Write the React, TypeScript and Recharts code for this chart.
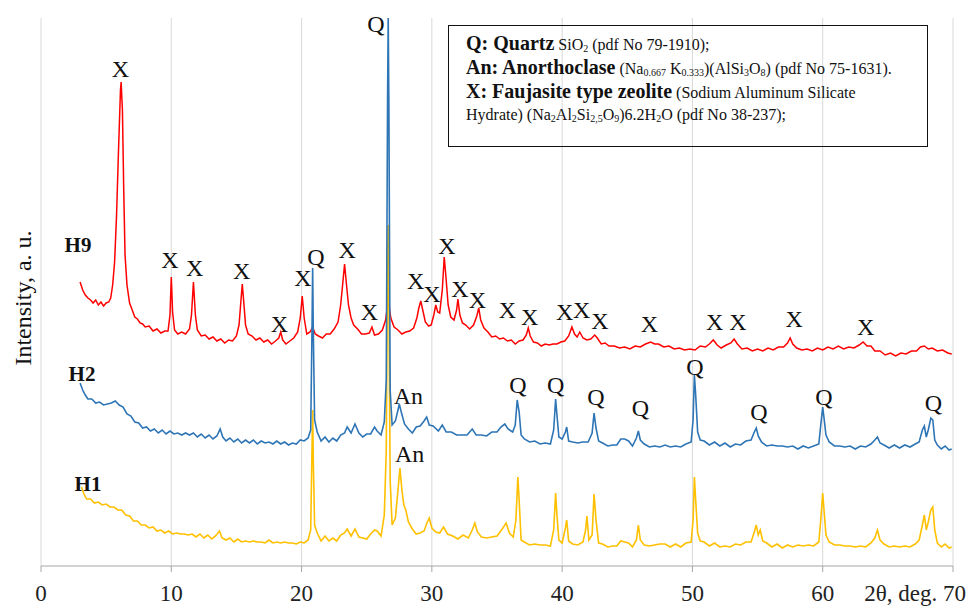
import { LineChart, Line, XAxis, YAxis, CartesianGrid, ReferenceDot } from "recharts";

type Pt = [number, number];

// 2θ (deg) vs intensity (a.u.)
const H9: Pt[] = [
  [3.0, 284], [3.2, 276], [3.4, 271], [3.6, 268], [3.8, 266], [4.0, 263], [4.2, 266], [4.4, 261],
  [4.6, 264], [4.8, 260], [5.0, 263], [5.2, 264], [5.35, 268], [5.5, 281], [5.65, 304], [5.8, 351],
  [5.95, 416], [6.1, 476], [6.15, 484], [6.25, 456], [6.35, 376], [6.45, 311], [6.6, 281], [6.8, 263],
  [7.0, 256], [7.2, 249], [7.4, 247], [7.6, 243], [7.8, 242], [8.0, 239], [8.3, 240], [8.6, 235],
  [8.9, 237], [9.2, 233], [9.5, 235], [9.75, 235], [9.9, 251], [10.0, 289], [10.1, 254], [10.25, 236],
  [10.5, 232], [10.8, 234], [11.1, 232], [11.4, 237], [11.55, 251], [11.7, 284], [11.85, 251], [12.0, 236],
  [12.3, 230], [12.6, 231], [12.9, 227], [13.2, 229], [13.5, 225], [13.8, 227], [14.1, 223], [14.4, 226],
  [14.7, 225], [15.0, 230], [15.2, 241], [15.35, 266], [15.45, 282], [15.55, 266], [15.7, 241], [15.9, 232],
  [16.2, 230], [16.5, 226], [16.8, 228], [17.1, 224], [17.4, 226], [17.7, 222], [18.0, 225], [18.25, 228],
  [18.4, 234], [18.55, 226], [18.8, 222], [19.1, 225], [19.4, 228], [19.7, 234], [19.9, 248], [20.05, 270],
  [20.2, 248], [20.4, 232], [20.65, 234], [20.85, 239], [21.05, 232], [21.3, 230], [21.6, 228], [21.9, 232],
  [22.2, 232], [22.5, 237], [22.8, 244], [23.0, 261], [23.15, 281], [23.3, 302], [23.45, 281], [23.6, 261],
  [23.8, 248], [24.0, 241], [24.3, 237], [24.6, 232], [24.9, 232], [25.2, 233], [25.4, 239], [25.6, 231],
  [25.9, 232], [26.2, 236], [26.45, 246], [26.65, 266], [26.85, 248], [27.1, 239], [27.4, 236], [27.7, 232],
  [28.0, 234], [28.3, 235], [28.6, 238], [28.85, 248], [29.0, 258], [29.15, 265], [29.3, 256], [29.5, 244],
  [29.75, 240], [29.95, 241], [30.15, 251], [30.3, 261], [30.45, 254], [30.6, 253], [30.8, 276], [30.95, 309],
  [31.1, 286], [31.25, 261], [31.45, 249], [31.7, 246], [31.9, 256], [32.0, 267], [32.15, 251], [32.35, 243],
  [32.6, 241], [32.9, 237], [33.2, 241], [33.45, 250], [33.6, 258], [33.75, 246], [34.0, 238], [34.3, 234],
  [34.6, 229], [34.9, 230], [35.2, 227], [35.5, 228], [35.8, 225], [36.1, 226], [36.4, 222], [36.7, 225],
  [37.0, 226], [37.25, 231], [37.4, 238], [37.55, 230], [37.8, 224], [38.1, 223], [38.4, 220], [38.7, 222],
  [39.0, 221], [39.3, 222], [39.6, 222], [39.9, 224], [40.2, 225], [40.5, 230], [40.75, 239], [40.95, 232],
  [41.15, 229], [41.35, 234], [41.6, 228], [41.9, 226], [42.2, 227], [42.5, 231], [42.7, 228], [43.0, 222],
  [43.3, 223], [43.6, 220], [44.0, 220], [44.4, 218], [44.8, 219], [45.2, 217], [45.6, 220], [46.0, 219],
  [46.4, 222], [46.8, 224], [47.1, 222], [47.4, 222], [47.8, 219], [48.2, 220], [48.6, 217], [49.0, 218],
  [49.4, 216], [49.8, 217], [50.2, 216], [50.6, 220], [51.0, 219], [51.3, 222], [51.6, 226], [51.9, 221],
  [52.2, 218], [52.6, 221], [52.95, 223], [53.2, 227], [53.45, 222], [53.8, 217], [54.2, 218], [54.6, 215],
  [55.0, 217], [55.4, 215], [55.8, 218], [56.2, 216], [56.6, 219], [57.0, 219], [57.3, 223], [57.5, 228],
  [57.7, 222], [58.0, 218], [58.4, 216], [58.8, 217], [59.2, 215], [59.6, 218], [60.0, 216], [60.4, 219],
  [60.8, 217], [61.2, 220], [61.6, 217], [62.0, 219], [62.4, 218], [62.8, 221], [63.1, 224], [63.4, 220],
  [63.7, 220], [64.0, 215], [64.4, 215], [64.8, 211], [65.2, 213], [65.6, 210], [66.0, 213], [66.4, 212],
  [66.8, 215], [67.2, 215], [67.5, 219], [67.8, 220], [68.1, 217], [68.4, 218], [68.8, 215], [69.2, 216],
  [69.6, 213], [69.9, 212],
];

const H2: Pt[] = [
  [3.0, 183], [3.2, 176], [3.4, 171], [3.6, 167], [3.9, 167], [4.2, 163], [4.5, 164], [4.8, 161],
  [5.1, 162], [5.4, 163], [5.7, 165], [6.0, 161], [6.3, 159], [6.6, 152], [6.9, 150], [7.2, 144],
  [7.5, 143], [7.8, 138], [8.1, 139], [8.4, 135], [8.7, 137], [9.0, 133], [9.3, 136], [9.6, 132],
  [9.9, 135], [10.2, 132], [10.5, 133], [10.8, 131], [11.1, 133], [11.4, 131], [11.7, 133], [12.0, 129],
  [12.3, 132], [12.6, 128], [12.9, 131], [13.2, 127], [13.5, 130], [13.75, 137], [13.95, 129], [14.2, 125],
  [14.5, 128], [14.8, 124], [15.1, 127], [15.4, 123], [15.7, 126], [16.0, 123], [16.3, 126], [16.6, 122],
  [16.9, 125], [17.2, 123], [17.5, 124], [17.8, 122], [18.1, 125], [18.4, 122], [18.7, 124], [19.0, 121],
  [19.3, 123], [19.6, 122], [19.9, 126], [20.2, 125], [20.5, 128], [20.7, 136], [20.8, 236], [20.85, 298],
  [20.9, 236], [21.0, 146], [21.2, 134], [21.5, 125], [21.8, 129], [22.1, 124], [22.4, 128], [22.7, 125],
  [23.0, 131], [23.3, 133], [23.5, 139], [23.8, 133], [24.1, 142], [24.4, 133], [24.7, 129], [25.0, 132],
  [25.3, 132], [25.6, 139], [25.8, 135], [26.1, 131], [26.35, 144], [26.5, 186], [26.6, 466], [26.65, 548],
  [26.7, 466], [26.8, 176], [26.95, 141], [27.2, 145], [27.4, 156], [27.5, 162], [27.65, 154], [27.9, 142],
  [28.2, 137], [28.5, 133], [28.8, 139], [29.1, 140], [29.4, 145], [29.6, 149], [29.8, 141], [30.1, 140],
  [30.5, 135], [30.8, 141], [31.1, 134], [31.5, 134], [31.9, 131], [32.3, 131], [32.7, 131], [33.1, 137],
  [33.4, 131], [33.8, 131], [34.2, 130], [34.6, 134], [35.0, 134], [35.3, 139], [35.6, 142], [35.85, 137],
  [36.2, 134], [36.4, 141], [36.55, 166], [36.7, 154], [36.85, 131], [37.1, 127], [37.5, 124], [37.9, 125],
  [38.3, 122], [38.7, 123], [39.1, 122], [39.35, 136], [39.5, 167], [39.6, 151], [39.75, 129], [40.0, 127],
  [40.25, 134], [40.35, 139], [40.5, 125], [40.8, 124], [41.2, 123], [41.6, 124], [42.0, 124], [42.3, 133],
  [42.45, 153], [42.6, 138], [42.8, 125], [43.1, 123], [43.5, 120], [43.9, 121], [44.2, 121], [44.5, 127],
  [44.8, 127], [45.1, 125], [45.4, 120], [45.7, 128], [45.85, 135], [46.0, 126], [46.3, 122], [46.7, 119],
  [47.1, 120], [47.5, 119], [47.9, 121], [48.3, 119], [48.7, 120], [49.1, 119], [49.5, 122], [49.9, 124],
  [50.05, 146], [50.15, 191], [50.25, 171], [50.4, 134], [50.6, 126], [50.9, 125], [51.3, 121], [51.7, 124],
  [52.1, 120], [52.5, 123], [52.9, 119], [53.3, 122], [53.7, 121], [54.1, 125], [54.5, 126], [54.75, 134],
  [54.9, 138], [55.05, 130], [55.3, 124], [55.7, 120], [56.1, 121], [56.5, 120], [56.9, 120], [57.3, 119],
  [57.7, 120], [58.1, 117], [58.5, 120], [58.9, 118], [59.3, 120], [59.7, 122], [59.85, 141], [60.0, 159],
  [60.1, 148], [60.25, 131], [60.5, 124], [60.9, 120], [61.3, 120], [61.7, 119], [62.1, 120], [62.5, 117],
  [62.9, 120], [63.3, 119], [63.7, 122], [64.0, 126], [64.2, 129], [64.4, 123], [64.7, 121], [65.1, 118],
  [65.5, 121], [65.9, 118], [66.3, 121], [66.7, 119], [67.1, 122], [67.4, 124], [67.65, 136], [67.8, 140],
  [67.95, 129], [68.1, 136], [68.3, 148], [68.45, 146], [68.6, 126], [68.8, 121], [69.1, 117], [69.4, 120],
  [69.7, 116], [69.9, 117],
];

const H1: Pt[] = [
  [3.1, 79], [3.3, 72], [3.5, 67], [3.8, 67], [4.1, 63], [4.4, 64], [4.7, 61], [5.0, 62],
  [5.3, 59], [5.6, 59], [5.9, 56], [6.2, 56], [6.5, 51], [6.8, 50], [7.1, 45], [7.4, 45],
  [7.7, 41], [8.0, 41], [8.3, 38], [8.6, 39], [8.9, 35], [9.2, 36], [9.5, 33], [9.8, 35],
  [10.1, 32], [10.4, 33], [10.7, 32], [11.0, 32], [11.3, 31], [11.6, 32], [11.9, 29], [12.2, 32],
  [12.5, 28], [12.8, 31], [13.1, 27], [13.4, 30], [13.7, 35], [13.9, 28], [14.2, 26], [14.5, 28],
  [14.8, 24], [15.1, 27], [15.4, 24], [15.7, 25], [16.0, 24], [16.3, 25], [16.6, 24], [16.9, 24],
  [17.2, 23], [17.5, 26], [17.8, 23], [18.1, 24], [18.4, 23], [18.7, 24], [19.0, 23], [19.3, 23],
  [19.6, 22], [19.9, 24], [20.2, 23], [20.5, 26], [20.7, 36], [20.8, 116], [20.85, 156], [20.9, 106],
  [21.0, 41], [21.2, 33], [21.5, 25], [21.8, 30], [22.1, 25], [22.4, 28], [22.7, 25], [23.0, 31],
  [23.3, 33], [23.5, 37], [23.8, 30], [24.1, 37], [24.4, 29], [24.7, 28], [25.0, 27], [25.3, 32],
  [25.6, 36], [25.8, 35], [26.1, 30], [26.35, 51], [26.5, 116], [26.6, 306], [26.65, 341], [26.7, 266],
  [26.8, 86], [26.95, 41], [27.2, 48], [27.4, 76], [27.55, 98], [27.7, 76], [27.85, 61], [28.0, 56],
  [28.2, 44], [28.5, 37], [28.8, 32], [29.1, 33], [29.4, 35], [29.65, 44], [29.8, 48], [30.0, 38],
  [30.3, 34], [30.6, 33], [30.9, 39], [31.2, 32], [31.6, 30], [32.0, 27], [32.4, 31], [32.8, 28],
  [33.1, 36], [33.3, 43], [33.5, 34], [33.8, 29], [34.2, 28], [34.6, 29], [35.0, 30], [35.4, 37],
  [35.7, 43], [35.95, 33], [36.25, 29], [36.45, 46], [36.6, 89], [36.7, 66], [36.85, 26], [37.1, 24],
  [37.5, 21], [37.9, 22], [38.3, 21], [38.7, 21], [39.1, 20], [39.35, 36], [39.5, 73], [39.6, 51],
  [39.75, 26], [40.0, 23], [40.25, 38], [40.35, 46], [40.5, 25], [40.8, 22], [41.2, 21], [41.6, 24],
  [41.8, 36], [41.9, 50], [42.05, 26], [42.3, 31], [42.45, 72], [42.6, 46], [42.8, 23], [43.1, 22],
  [43.5, 19], [43.9, 20], [44.2, 20], [44.5, 25], [44.8, 24], [45.1, 23], [45.4, 19], [45.7, 26],
  [45.85, 41], [46.0, 26], [46.3, 21], [46.7, 20], [47.1, 21], [47.5, 22], [47.9, 22], [48.3, 19],
  [48.7, 22], [49.1, 19], [49.5, 23], [49.9, 24], [50.05, 46], [50.15, 89], [50.25, 66], [50.4, 33],
  [50.6, 25], [50.9, 24], [51.3, 20], [51.7, 23], [52.1, 19], [52.5, 20], [52.9, 19], [53.3, 22],
  [53.7, 21], [54.1, 24], [54.5, 24], [54.75, 34], [54.9, 41], [55.05, 31], [55.2, 36], [55.4, 25],
  [55.7, 23], [56.1, 19], [56.5, 22], [56.9, 18], [57.3, 21], [57.7, 19], [58.1, 21], [58.5, 20],
  [58.9, 21], [59.3, 20], [59.7, 24], [59.85, 46], [60.0, 73], [60.1, 56], [60.25, 31], [60.5, 24],
  [60.9, 21], [61.3, 21], [61.7, 20], [62.1, 20], [62.5, 19], [62.9, 20], [63.3, 19], [63.7, 23],
  [64.0, 28], [64.2, 36], [64.4, 26], [64.7, 22], [65.1, 19], [65.5, 20], [65.9, 19], [66.3, 20],
  [66.7, 19], [67.1, 22], [67.4, 26], [67.65, 41], [67.8, 51], [67.95, 36], [68.1, 44], [68.3, 56],
  [68.45, 59], [68.6, 36], [68.8, 23], [69.1, 19], [69.4, 22], [69.7, 18], [69.9, 19],
];

// phase labels above peaks: [2θ, intensity, text]
const peakLabels: [number, number, string][] = [
  [6.1, 497, "X"], [9.9, 306, "X"], [11.8, 298, "X"], [15.4, 295, "X"], [18.3, 242, "X"],
  [20.1, 288, "X"], [21.1, 309, "Q"], [23.5, 316, "X"], [25.2, 254, "X"], [25.7, 542, "Q"],
  [28.75, 285, "X"], [30.0, 272, "X"], [31.15, 320, "X"], [32.15, 277, "X"], [33.5, 266, "X"],
  [35.8, 256, "X"], [37.5, 249, "X"], [40.2, 254, "X"], [41.5, 256, "X"], [42.9, 245, "X"],
  [46.7, 242, "X"], [51.7, 244, "X"], [53.5, 244, "X"], [57.8, 247, "X"], [63.3, 239, "X"],
  [28.2, 170, "An"], [36.6, 181, "Q"], [39.5, 181, "Q"], [42.6, 169, "Q"], [46.0, 158, "Q"],
  [50.2, 199, "Q"], [55.1, 154, "Q"], [60.1, 169, "Q"], [68.5, 163, "Q"],
  [28.3, 112, "An"],
];

const xTicks = [0, 10, 20, 30, 40, 50, 60, 70];

const SERIF = "'Liberation Serif', 'Times New Roman', serif";
const toRows = (pts: Pt[]) => pts.map(([x, y]) => ({ x, y }));

const XTick = ({ x, y, payload }: any) => (
  <text
    x={payload.value === 70 ? x + 13 : x}
    y={y + 29}
    textAnchor={payload.value === 70 ? "end" : "middle"}
    fontFamily={SERIF}
    fontSize={23}
    fill="#222"
  >
    {payload.value === 70 ? "2θ, deg. 70" : payload.value}
  </text>
);

const sub = { fontSize: 10, verticalAlign: "-2px", lineHeight: 0 } as const;

export default function App() {
  return (
    <div style={{ position: "absolute", left: 0, top: 0, width: 969, height: 608, background: "#fff" }}>
      <LineChart width={969} height={608} margin={{ top: 18, right: 16, left: 41, bottom: 0 }}>
        <CartesianGrid vertical horizontal={false} stroke="#d9d9d9" />
        <XAxis
          type="number"
          dataKey="x"
          domain={[0, 70]}
          ticks={xTicks}
          height={42}
          tickSize={6}
          tickMargin={0}
          stroke="#a6a6a6"
          tick={<XTick />}
          allowDataOverflow
        />
        <YAxis type="number" dataKey="y" hide domain={[0, 548]} allowDataOverflow />
        <Line data={toRows(H9)} dataKey="y" stroke="#ff0000" strokeWidth={1.5} dot={false} isAnimationActive={false} />
        <Line data={toRows(H1)} dataKey="y" stroke="#ffc000" strokeWidth={1.6} dot={false} isAnimationActive={false} />
        <Line data={toRows(H2)} dataKey="y" stroke="#2e75b6" strokeWidth={1.6} dot={false} isAnimationActive={false} />
        {peakLabels.map(([x, y, t], i) => (
          <ReferenceDot
            key={i}
            x={x}
            y={y}
            r={0}
            ifOverflow="visible"
            shape={(p: any) => (
              <text x={p.cx} y={p.cy} textAnchor="middle" dominantBaseline="central" fontFamily={SERIF} fontSize={24} fill="#111">
                {t}
              </text>
            )}
          />
        ))}
      </LineChart>

      <div
        style={{
          position: "absolute", left: 23, top: 298, transform: "translate(-50%, -50%) rotate(-90deg)",
          fontFamily: SERIF, fontSize: 24, whiteSpace: "nowrap", color: "#111",
        }}
      >
        Intensity, a. u.
      </div>

      {[["H9", 78, 245], ["H2", 82, 374], ["H1", 88, 484]].map(([t, x, y]) => (
        <div
          key={t as string}
          style={{
            position: "absolute", left: x as number, top: y as number, transform: "translate(-50%, -50%)",
            fontFamily: SERIF, fontWeight: "bold", fontSize: 21, color: "#111",
          }}
        >
          {t}
        </div>
      ))}

      <div
        style={{
          position: "absolute", left: 448, top: 25, width: 480, height: 122, boxSizing: "border-box",
          border: "1.5px solid #111", padding: "6px 0 0 17px", fontFamily: SERIF, color: "#111",
          lineHeight: "22px", whiteSpace: "nowrap",
        }}
      >
        <div>
          <b style={{ fontSize: 20 }}>Q: Quartz</b>
          <span style={{ fontSize: 16 }}> SiO<span style={sub}>2</span> (pdf No 79-1910);</span>
        </div>
        <div>
          <b style={{ fontSize: 20 }}>An: Anorthoclase</b>
          <span style={{ fontSize: 16 }}>
            {" "}(Na<span style={sub}>0.667</span> K<span style={sub}>0.333</span>)(AlSi<span style={sub}>3</span>O
            <span style={sub}>8</span>) (pdf No 75-1631).
          </span>
        </div>
        <div>
          <b style={{ fontSize: 20 }}>X: Faujasite type zeolite</b>
          <span style={{ fontSize: 16 }}> (Sodium Aluminum Silicate</span>
        </div>
        <div style={{ fontSize: 16 }}>
          Hydrate) (Na<span style={sub}>2</span>Al<span style={sub}>2</span>Si<span style={sub}>2,5</span>O
          <span style={sub}>9</span>)6.2H<span style={sub}>2</span>O (pdf No 38-237);
        </div>
      </div>
    </div>
  );
}
